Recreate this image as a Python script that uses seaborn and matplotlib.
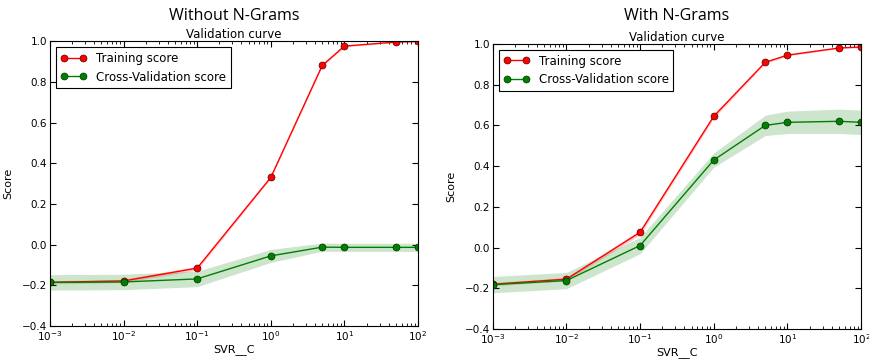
import numpy as np
import pandas as pd
import seaborn as sns
import matplotlib.pyplot as plt

# SVR__C grid
svr_c = [0.001, 0.01, 0.1, 1, 5, 10, 50, 100]

# Without N-Grams
train_plain = [-0.185, -0.178, -0.115, 0.33, 0.88, 0.975, 0.995, 0.998]
train_plain_std = [0.008, 0.008, 0.01, 0.005, 0.006, 0.004, 0.002, 0.002]
cv_plain = [-0.185, -0.183, -0.168, -0.055, -0.012, -0.013, -0.013, -0.013]
cv_plain_std = [0.038, 0.038, 0.038, 0.032, 0.02, 0.02, 0.02, 0.02]

# With N-Grams
train_ngram = [-0.18, -0.155, 0.075, 0.645, 0.91, 0.945, 0.98, 0.985]
train_ngram_std = [0.008, 0.008, 0.012, 0.01, 0.006, 0.004, 0.003, 0.003]
cv_ngram = [-0.182, -0.162, 0.01, 0.43, 0.60, 0.615, 0.62, 0.615]
cv_ngram_std = [0.04, 0.04, 0.04, 0.035, 0.05, 0.055, 0.06, 0.06]

panels = [
    ("Without N-Grams", train_plain, train_plain_std, cv_plain, cv_plain_std),
    ("With N-Grams", train_ngram, train_ngram_std, cv_ngram, cv_ngram_std),
]

sns.set_style("ticks")
plt.rcParams['font.family'] = ['DejaVu Sans']
plt.rcParams['xtick.direction'] = 'in'
plt.rcParams['ytick.direction'] = 'in'
for k in ('text.color', 'axes.labelcolor', 'xtick.color', 'ytick.color'):
    plt.rcParams[k] = 'black'

fig = plt.figure(figsize=(8.69, 3.6), dpi=100)
boxes = [[0.0575, 0.094, 0.4235, 0.792], [0.567, 0.086, 0.424, 0.792]]

for box, (name, tr, tr_s, cv, cv_s) in zip(boxes, panels):
    ax = fig.add_axes(box)
    df = pd.DataFrame({"C": svr_c, "train": tr, "cv": cv})
    tr, tr_s, cv, cv_s = map(np.array, (tr, tr_s, cv, cv_s))

    ax.fill_between(svr_c, tr - tr_s, tr + tr_s, color='red', alpha=0.2, lw=0)
    ax.fill_between(svr_c, cv - cv_s, cv + cv_s, color='green', alpha=0.2, lw=0)
    sns.lineplot(data=df, x="C", y="train", ax=ax, color='red', marker='o',
                 markersize=5, markeredgecolor='#550000', markeredgewidth=0.5,
                 lw=1, label="Training score")
    sns.lineplot(data=df, x="C", y="cv", ax=ax, color='green', marker='o',
                 markersize=5, markeredgecolor='#003300', markeredgewidth=0.5,
                 lw=1, label="Cross-Validation score")

    ax.set_xscale('log')
    ax.set_xlim(1e-3, 1e2)
    ax.set_ylim(-0.4, 1.0)
    ax.set_yticks([-0.4, -0.2, 0.0, 0.2, 0.4, 0.6, 0.8, 1.0])
    ax.set_xticks([1e-3, 1e-2, 1e-1, 1e0, 1e1, 1e2])
    ax.set_xlabel("SVR__C", fontsize=8, labelpad=1)
    ax.set_ylabel("Score", fontsize=8, labelpad=6)
    ax.set_title("Validation curve", fontsize=8.5, pad=2)
    ax.tick_params(which='both', top=True, right=True, labelsize=7.5, pad=2)
    ax.tick_params(which='major', length=4)
    ax.tick_params(which='minor', length=2)
    for sp in ax.spines.values():
        sp.set_linewidth(0.8)
        sp.set_color('black')

    leg = ax.legend(loc='upper left', fontsize=8.5, fancybox=False,
                    edgecolor='black', framealpha=1, borderpad=0.4,
                    handlelength=2.2, labelspacing=0.5, numpoints=2)
    leg.get_frame().set_linewidth(0.8)

    fig.text(box[0] + box[2] / 2, 0.955, name, ha='center', va='center',
             fontsize=11.5, family='Open Sans')

fig.savefig("out.png", dpi=100)
